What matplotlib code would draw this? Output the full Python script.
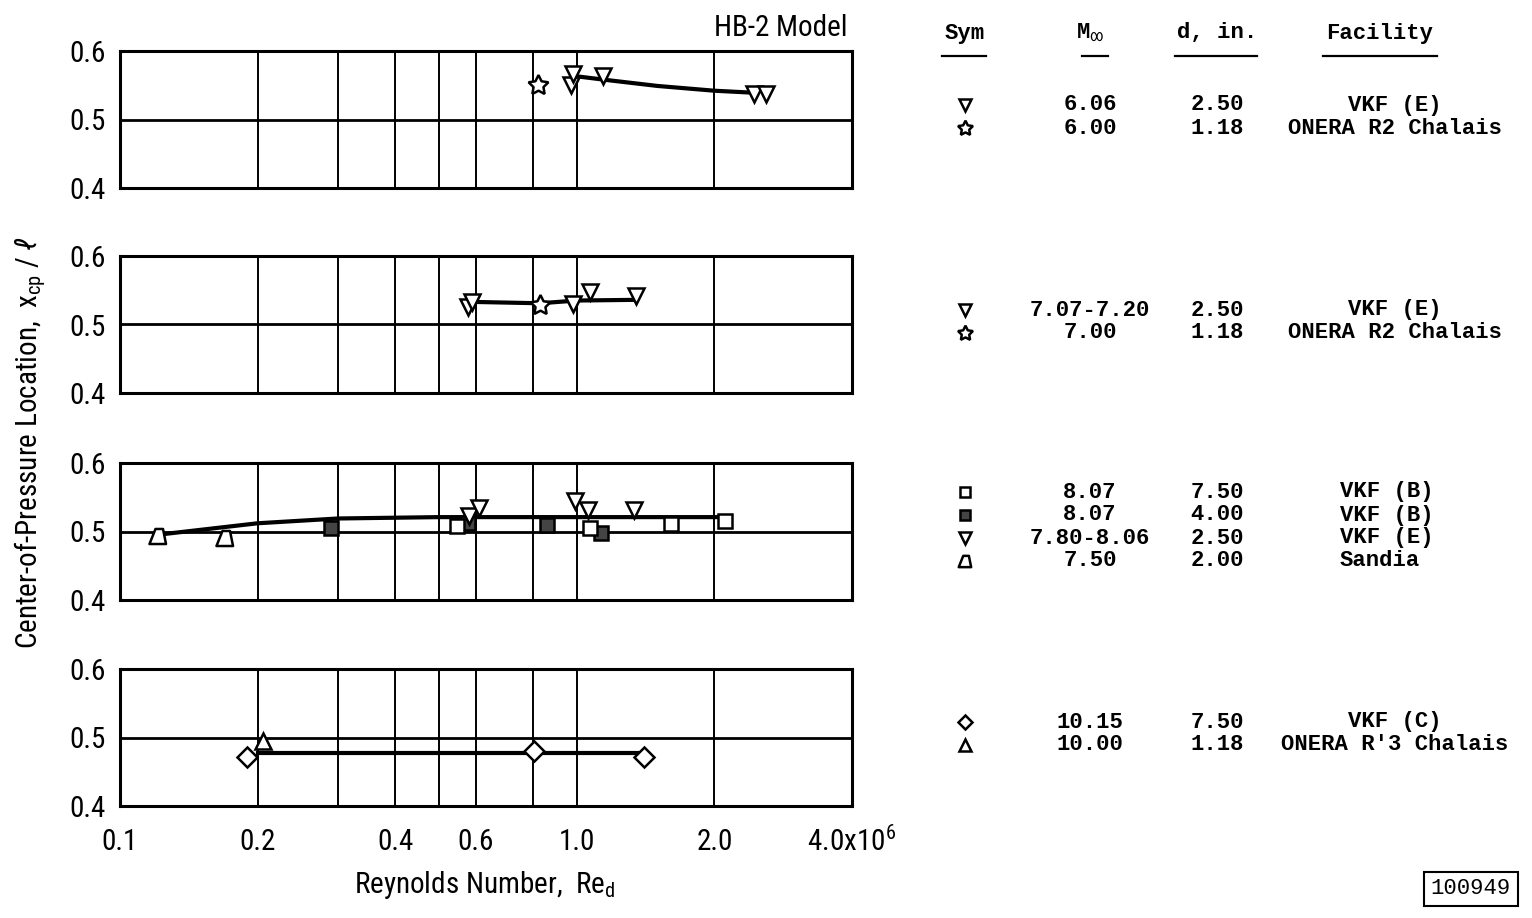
import matplotlib
matplotlib.use('Agg')
import matplotlib.pyplot as plt
from matplotlib import font_manager as fm
from matplotlib.path import Path


def pick_font(*names):
    for n in names:
        try:
            fm.findfont(fm.FontProperties(family=n), fallback_to_default=False)
            return n
        except ValueError:
            pass
    return 'DejaVu Sans'


sans = pick_font('Liberation Sans Narrow', 'Roboto Condensed', 'Roboto', 'DejaVu Sans')
mono = pick_font('Liberation Mono', 'DejaVu Sans Mono')
lab_size = 21 if sans in ('Liberation Sans Narrow', 'Roboto Condensed') else 19

plt.rcParams['mathtext.fontset'] = 'custom'
plt.rcParams['mathtext.rm'] = sans
plt.rcParams['mathtext.it'] = sans + ':italic'

# ---- data (Re_d in millions, x_cp / l) ----
# panel 1: M = 6
p1_vkf_x = [0.97, 0.98, 1.14, 2.44, 2.59]
p1_vkf_y = [0.551, 0.566, 0.563, 0.537, 0.537]
p1_onera_x = [0.82]
p1_onera_y = [0.551]
p1_fair_x = [1.0, 1.15, 1.5, 2.0, 2.45]
p1_fair_y = [0.563, 0.558, 0.549, 0.542, 0.539]

# panel 2: M = 7
p2_vkf_x = [0.577, 0.59, 0.98, 1.07, 1.35]
p2_vkf_y = [0.525, 0.533, 0.530, 0.547, 0.541]
p2_onera_x = [0.83]
p2_onera_y = [0.529]
p2_fair_x = [0.59, 0.83, 1.0, 1.35]
p2_fair_y = [0.533, 0.531, 0.535, 0.536]

# panel 3: M = 8
p3_open_x = [0.546, 1.07, 1.61, 2.11]
p3_open_y = [0.508, 0.505, 0.511, 0.516]
p3_fill_x = [0.29, 0.577, 0.86, 1.13]
p3_fill_y = [0.505, 0.513, 0.510, 0.498]
p3_vkf_x = [0.58, 0.61, 0.99, 1.06, 1.33]
p3_vkf_y = [0.523, 0.535, 0.545, 0.532, 0.532]
p3_sandia_x = [0.121, 0.17]
p3_sandia_y = [0.493, 0.491]
p3_fair_x = [0.12, 0.2, 0.3, 0.5, 1.0, 2.1]
p3_fair_y = [0.495, 0.512, 0.519, 0.521, 0.521, 0.521]

# panel 4: M = 10
p4_vkf_x = [0.19, 0.805, 1.40]
p4_vkf_y = [0.472, 0.481, 0.472]
p4_onera_x = [0.206]
p4_onera_y = [0.495]
p4_fair_x = [0.2, 1.4]
p4_fair_y = [0.478, 0.478]

grid_x = [0.2, 0.3, 0.4, 0.5, 0.6, 0.8, 1.0, 2.0]
tick_x = [0.1, 0.2, 0.4, 0.6, 1.0, 2.0, 4.0]
tick_lab = ['0.1', '0.2', '0.4', '0.6', '1.0', '2.0', '4.0x10$^6$']

# legend table
tab_rows = [
    [('tri', '6.06', '2.50', 'VKF (E)', 'c'),
     ('star', '6.00', '1.18', 'ONERA R2 Chalais', 'c')],
    [('tri', '7.07-7.20', '2.50', 'VKF (E)', 'c'),
     ('star', '7.00', '1.18', 'ONERA R2 Chalais', 'c')],
    [('sq', '8.07', '7.50', 'VKF (B)', 'l'),
     ('sqf', '8.07', '4.00', 'VKF (B)', 'l'),
     ('tri', '7.80-8.06', '2.50', 'VKF (E)', 'l'),
     ('sandia', '7.50', '2.00', 'Sandia', 'l')],
    [('dia', '10.15', '7.50', 'VKF (C)', 'c'),
     ('up', '10.00', '1.18', "ONERA R'3 Chalais", 'c')],
]

sandia_marker = Path([(-0.6, -0.5), (0.5, -0.5), (0.3, 0.5), (-0.2, 0.5), (-0.6, -0.5)],
                     [Path.MOVETO, Path.LINETO, Path.LINETO, Path.LINETO, Path.CLOSEPOLY])
star_marker = (5, 1, 0)

styles = {
    'tri': dict(marker='v', ms=12, mfc='white'),
    'star': dict(marker=star_marker, ms=15, mfc='white'),
    'sq': dict(marker='s', ms=10, mfc='white'),
    'sqf': dict(marker='s', ms=10, mfc='#444444'),
    'sandia': dict(marker=sandia_marker, ms=13, mfc='white'),
    'dia': dict(marker='D', ms=10, mfc='white'),
    'up': dict(marker='^', ms=12, mfc='white'),
}

W, H = 1532, 918
fig = plt.figure(figsize=(W / 100, H / 100), dpi=100)

left, right = 120, 852
tops = [51, 256, 463, 669]
ph = 137

panels = [
    [(p1_vkf_x, p1_vkf_y, 'tri'), (p1_onera_x, p1_onera_y, 'star')],
    [(p2_vkf_x, p2_vkf_y, 'tri'), (p2_onera_x, p2_onera_y, 'star')],
    [(p3_sandia_x, p3_sandia_y, 'sandia'), (p3_fill_x, p3_fill_y, 'sqf'),
     (p3_open_x, p3_open_y, 'sq'), (p3_vkf_x, p3_vkf_y, 'tri')],
    [(p4_vkf_x, p4_vkf_y, 'dia'), (p4_onera_x, p4_onera_y, 'up')],
]
fairs = [(p1_fair_x, p1_fair_y), (p2_fair_x, p2_fair_y),
         (p3_fair_x, p3_fair_y), (p4_fair_x, p4_fair_y)]

for i, top in enumerate(tops):
    ax = fig.add_axes([left / W, 1 - (top + ph) / H, (right - left) / W, ph / H])
    ax.set_xscale('log')
    ax.set_xlim(0.1, 4.0)
    ax.set_ylim(0.4, 0.6)
    for g in grid_x:
        ax.axvline(g, color='black', lw=1.4, zorder=1)
    ax.axhline(0.5, color='black', lw=2.0, zorder=1)
    fx, fy = fairs[i]
    ax.plot(fx, fy, color='black', lw=3, zorder=2)
    for xs, ys, kind in panels[i]:
        ax.plot(xs, ys, ls='none', mec='black', mew=1.8, zorder=3, **styles[kind])
    for s in ax.spines.values():
        s.set_linewidth(2.2)
    ax.set_yticks([0.4, 0.5, 0.6])
    ax.set_yticklabels(['0.4', '0.5', '0.6'], family=sans, fontsize=lab_size)
    ax.minorticks_off()
    ax.tick_params(length=0, pad=10)
    ax.set_xticks([])
    if i == 3:
        # x labels put on a common baseline (the last one carries an exponent)
        for tx, tl in zip(tick_x, tick_lab):
            ax.annotate(tl, xy=(tx, 0), xycoords=('data', 'axes fraction'),
                        xytext=(0, -32), textcoords='offset points',
                        family=sans, fontsize=lab_size, ha='center', va='baseline',
                        annotation_clip=False)

fig.text(848 / W, 1 - 28 / H, 'HB-2 Model', family=sans, fontsize=lab_size,
         ha='right', va='center')
fig.text(485 / W, 1 - 885 / H, 'Reynolds Number,  Re$_{\\mathrm{d}}$', family=sans,
         fontsize=lab_size, ha='center', va='center')
fig.text(30 / W, 1 - 443 / H,
         'Center-of-Pressure Location,  $\\mathrm{x}_{\\mathrm{cp}}$ / $\\ell$',
         family=sans, fontsize=lab_size, rotation=90, ha='center', va='center')

# ---- symbol table on the right, drawn in pixel coordinates ----
tab = fig.add_axes([0, 0, 1, 1])
tab.set_xlim(0, W)
tab.set_ylim(H, 0)
tab.axis('off')

fs = 16
fw = 'bold'
col_sym, col_m, col_d, col_fac, col_fac_l = 965, 1090, 1217, 1395, 1340
tab.text(col_sym, 33, 'Sym', family=mono, fontsize=fs, weight=fw, ha='center', va='center')
tab.text(col_m, 33, 'M$_{\\infty}$', family=mono, fontsize=fs, weight=fw, ha='center', va='center')
tab.text(col_d, 33, 'd, in.', family=mono, fontsize=fs, weight=fw, ha='center', va='center')
tab.text(1380, 33, 'Facility', family=mono, fontsize=fs, weight=fw, ha='center', va='center')
for x0, x1 in [(942, 986), (1082, 1108), (1175, 1257), (1323, 1437)]:
    tab.plot([x0, x1], [56, 56], color='black', lw=1.6)

group_y = [105, 310, 492, 722]
for gy, rows in zip(group_y, tab_rows):
    for j, (kind, m, d, fac, al) in enumerate(rows):
        y = gy + j * 23
        st = dict(styles[kind])
        st['ms'] = st['ms'] * 0.75
        tab.plot([col_sym], [y], ls='none', mec='black', mew=1.8, **st)
        tab.text(col_m, y, m, family=mono, fontsize=fs, weight=fw, ha='center', va='center')
        tab.text(col_d, y, d, family=mono, fontsize=fs, weight=fw, ha='center', va='center')
        if al == 'l':
            tab.text(col_fac_l, y, fac, family=mono, fontsize=fs, weight=fw,
                     ha='left', va='center')
        else:
            tab.text(col_fac, y, fac, family=mono, fontsize=fs, weight=fw,
                     ha='center', va='center')

tab.text(1471, 889, '100949', family=mono, fontsize=fs, ha='center', va='center',
         bbox=dict(boxstyle='square,pad=0.3', fc='white', ec='black', lw=1.5))

fig.savefig('out.png', dpi=100)
